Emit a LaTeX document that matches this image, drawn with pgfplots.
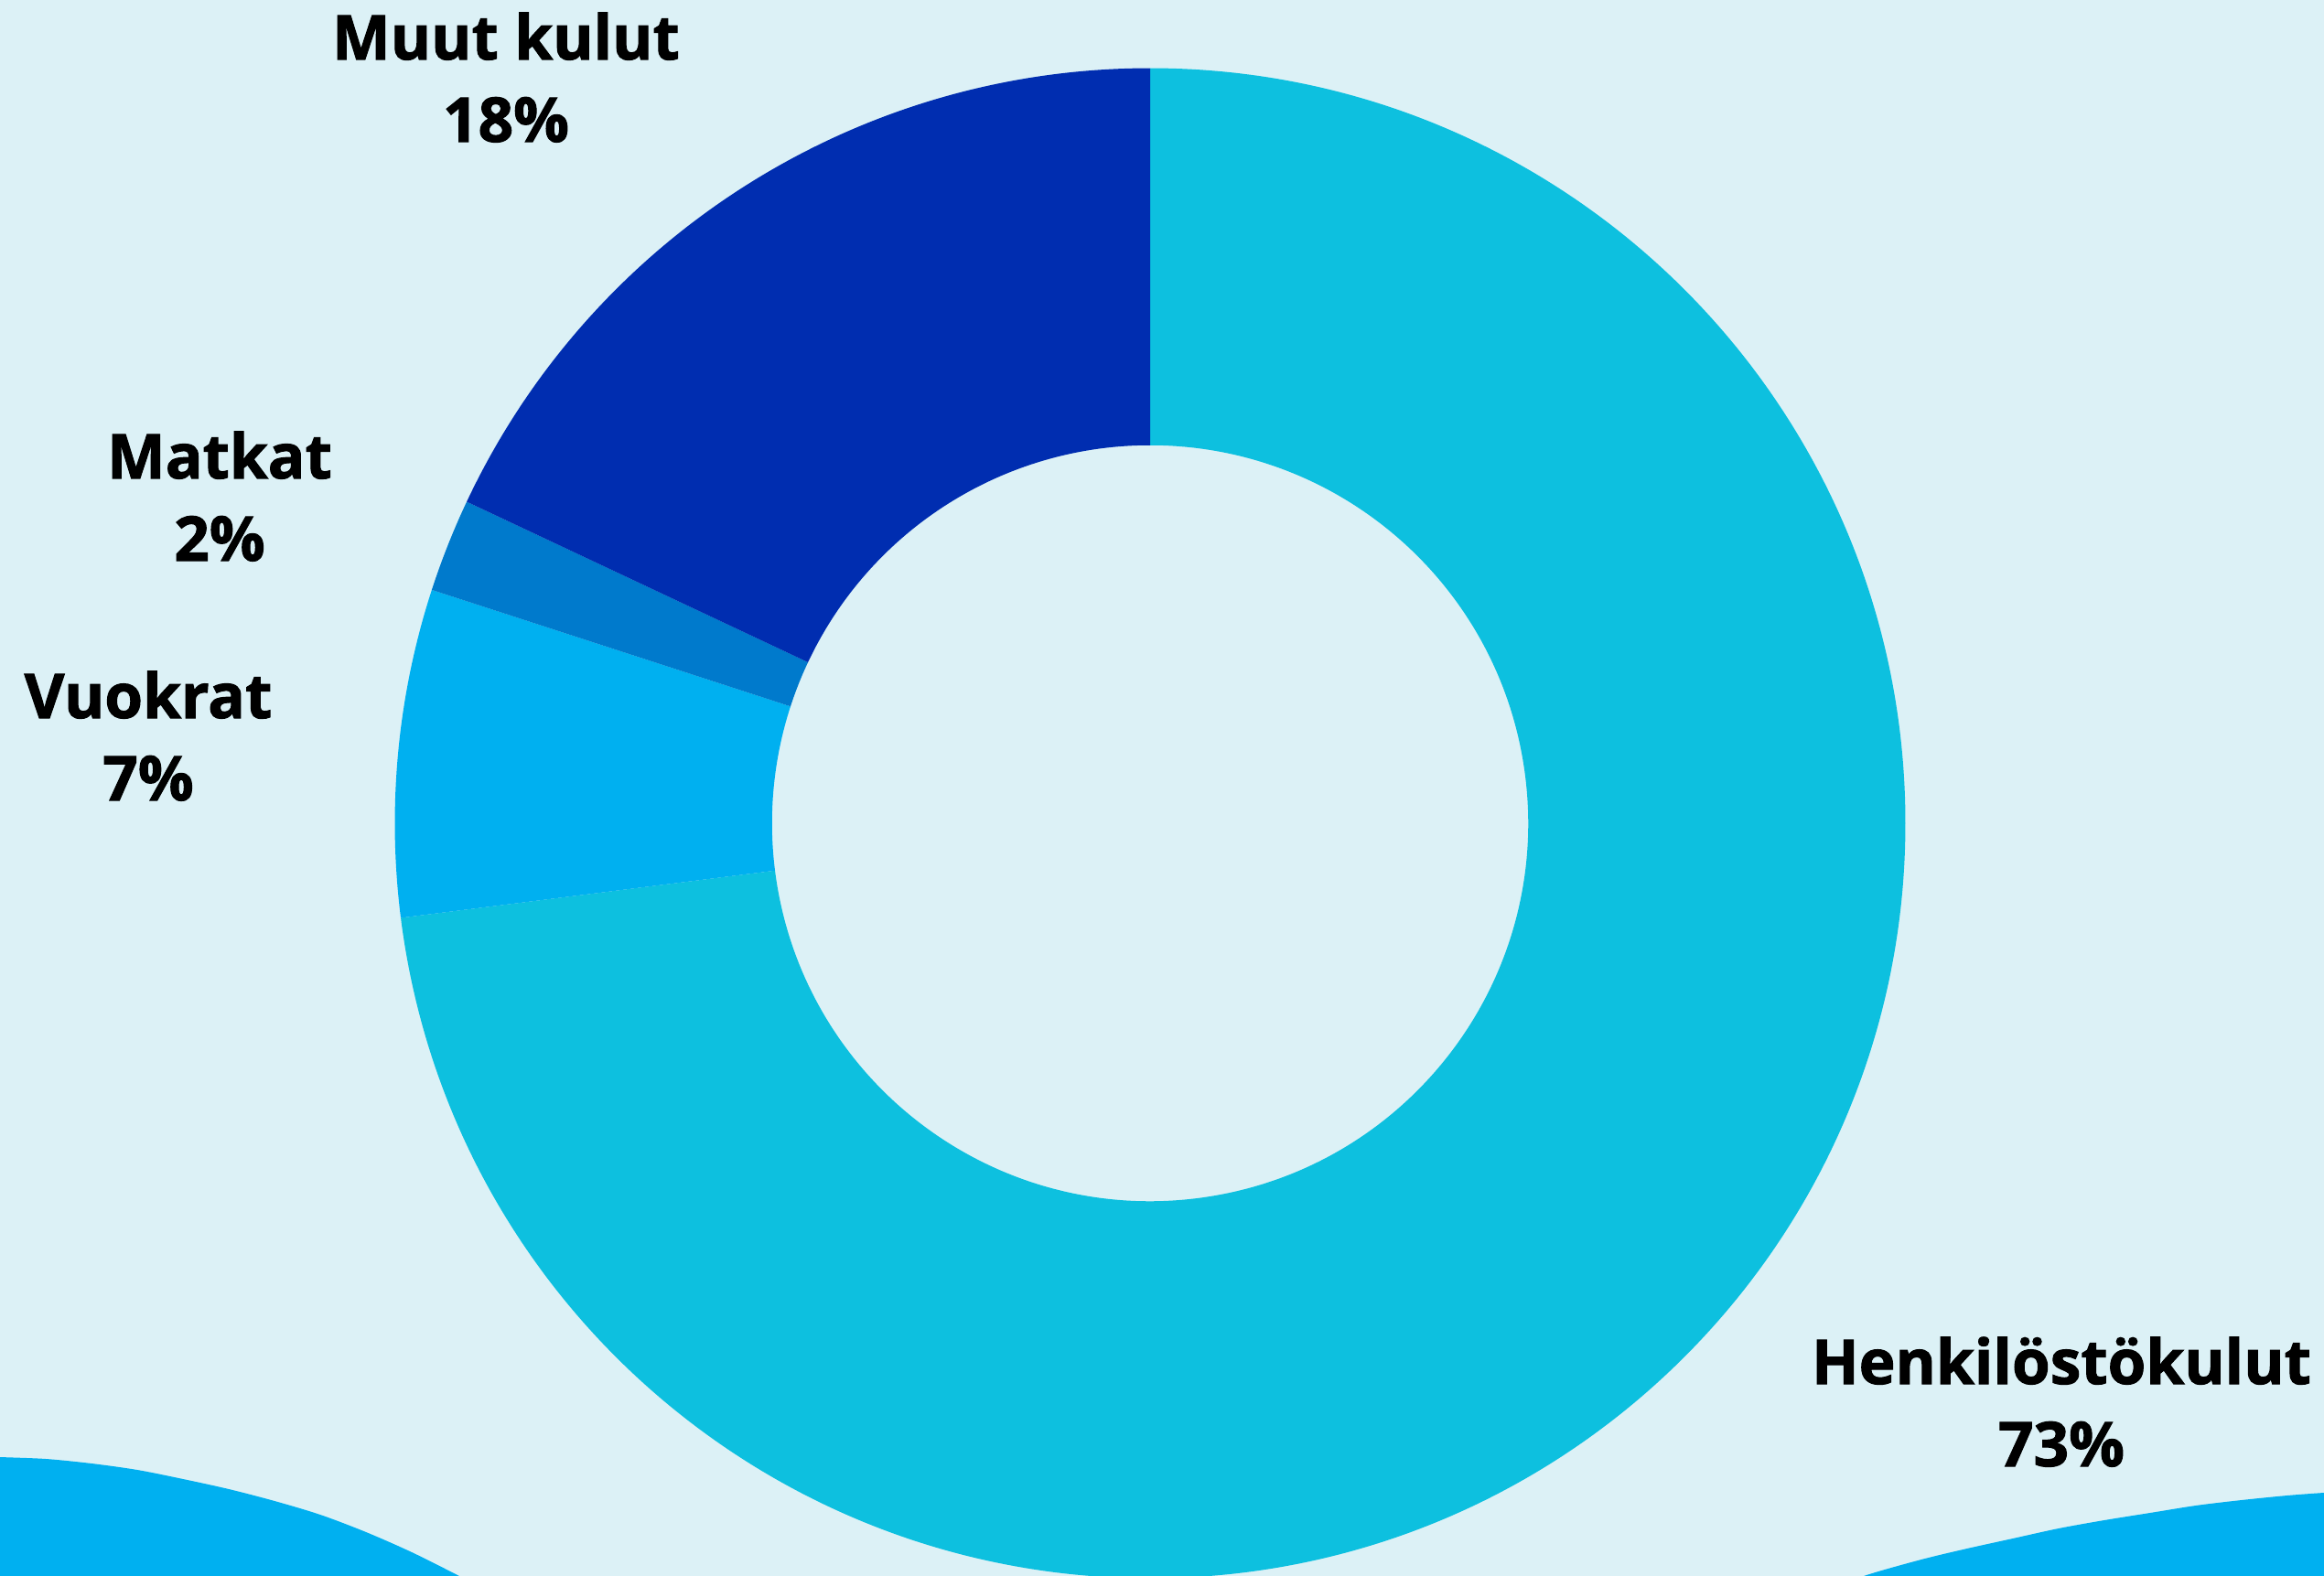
\documentclass[border=0pt]{standalone}
\usepackage{pgfplots}
\pgfplotsset{compat=1.18}
\usepackage{fontspec}
\setmainfont{Open Sans}[BoldFeatures={FakeBold=1.5}]

\definecolor{bg}{HTML}{DCF1F6}
\definecolor{henk}{HTML}{0DC0DF}
\definecolor{vuok}{HTML}{00B0F0}
\definecolor{matk}{HTML}{007ACC}
\definecolor{muut}{HTML}{002DB0}
\definecolor{wave}{HTML}{00B0F0}

% donut geometry in picture pixels (1 px = 0.01cm)
\def\cx{1257}
\def\cy{900}
% slice from cumulative percent #1 to #2, clockwise from the top
\newcommand\slice[3]{%
  \fill[#3] (axis cs:\cx,\cy) ++({90-3.6*#1}:8.25cm)
    arc[start angle={90-3.6*#1}, end angle={90-3.6*#2}, radius=8.25cm]
    -- ++({90-3.6*#2}:-4.12cm)
    arc[start angle={90-3.6*#2}, end angle={90-3.6*#1}, radius=4.13cm]
    -- cycle;}
\newcommand\lab[4]{% x, baseline y, name, percent
  \node[anchor=base, inner sep=0pt] at (axis cs:#1,#2) {\bfseries #3};
  \node[anchor=base, inner sep=0pt] at (axis cs:#1,#2+90) {\bfseries #4};}

\begin{document}
\begin{tikzpicture}
\begin{axis}[
  x=0.01cm, y=0.01cm,
  xmin=0, xmax=2540, ymin=0, ymax=1723,
  y dir=reverse,
  hide axis,
  clip=true,
  font=\fontsize{19.2}{24}\selectfont,
]
% background
\addplot[fill=bg, draw=none] coordinates {(0,0) (2540,0) (2540,1723) (0,1723)} -- cycle;

% wave at the bottom (left and right lobes, hidden under the donut in the middle)
\addplot[fill=wave, draw=none, smooth] coordinates {
  (-20,1592) (0,1593) (50,1595) (100,1600) (150,1607) (200,1617) (250,1628)
  (300,1641) (350,1656) (400,1675) (450,1697) (500,1722) (550,1748)
} -- (axis cs:550,1800) -- (axis cs:-20,1800) -- cycle;
\addplot[fill=wave, draw=none, smooth] coordinates {
  (1980,1745) (2037,1723) (2100,1705) (2150,1693) (2200,1682) (2250,1671)
  (2300,1662) (2350,1654) (2400,1646) (2450,1640) (2500,1635) (2540,1632)
  (2560,1631)
} -- (axis cs:2560,1800) -- (axis cs:1980,1800) -- cycle;

% donut: Henkilöstökulut 73, Vuokrat 7, Matkat 2, Muut kulut 18
\slice{0}{73}{henk}
\slice{73}{80}{vuok}
\slice{80}{82}{matk}
\slice{82}{100}{muut}

\lab{553}{65}{Muut kulut}{18\%}
\lab{240}{523}{Matkat}{2\%}
\lab{162}{785}{Vuokrat}{7\%}
\lab{2253}{1513}{Henkilöstökulut}{73\%}
\end{axis}
\end{tikzpicture}
\end{document}
